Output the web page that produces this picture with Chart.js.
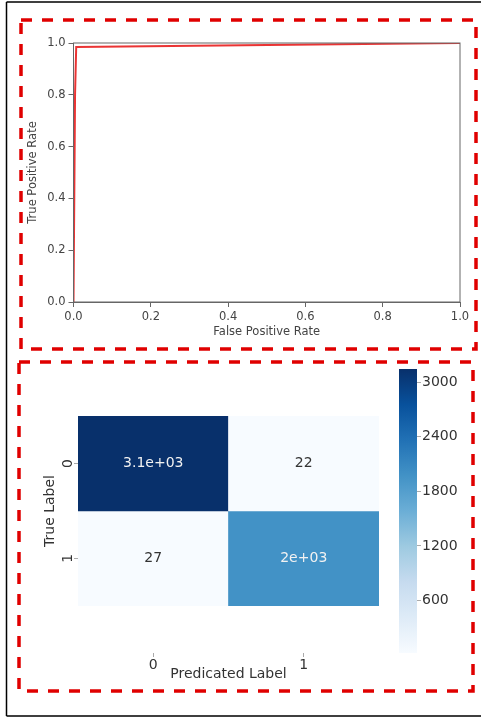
<!DOCTYPE html>
<html>
<head>
<meta charset="utf-8">
<script src="https://cdn.jsdelivr.net/npm/chart.js@4.4.1/dist/chart.umd.min.js"></script>
<style>
  html, body { margin: 0; padding: 0; background: #fff; }
  #page { position: relative; width: 481px; height: 717px; overflow: hidden; }
  canvas { position: absolute; }
  #roc { left: 0; top: 0; }
  #cm { left: 0; top: 355px; }
  #cbar { left: 385px; top: 355px; }
  svg { position: absolute; left: 0; top: 0; pointer-events: none; }
</style>
</head>
<body>
<div id="page">
  <canvas id="roc" width="481" height="360"></canvas>
  <canvas id="cm" width="400" height="335"></canvas>
  <canvas id="cbar" width="96" height="310"></canvas>
  <svg width="481" height="717">
    <path d="M6.5 2 H481 M6.5 2 V716 M6.5 716 H481" stroke="#000" stroke-width="1.5" fill="none"/>
    <rect x="21" y="20" width="455" height="329" fill="none" stroke="#e00000" stroke-width="3.5" stroke-dasharray="11 10"/>
    <rect x="19" y="362" width="454" height="329" fill="none" stroke="#e00000" stroke-width="3.5" stroke-dasharray="11 10"/>
  </svg>
</div>
<script>
// ROC curve points
const fpr = [0, 0.002, 0.004, 0.007, 1];
const tpr = [0, 0.4, 0.8, 0.985, 1];
const rocTicks = [0, 0.2, 0.4, 0.6, 0.8, 1.0];

// confusion matrix (rows = true label, cols = predicted label)
const cmRows = ["0", "1"];
const cmCols = ["0", "1"];
const cmValues = [
  [3146, 22],
  [27, 1980],
];
const cbarTicks = [600, 1200, 1800, 2400, 3000];

const BLUES = ["#f7fbff", "#deebf7", "#c6dbef", "#9ecae1", "#6baed6", "#4292c6", "#2171b5", "#08519c", "#08306b"];

Chart.defaults.font.family = "'DejaVu Sans', sans-serif";
Chart.defaults.animation = false;

function hexRgb(h) {
  return [1, 3, 5].map((i) => parseInt(h.slice(i, i + 2), 16));
}

function blues(t) {
  t = Math.max(0, Math.min(1, t));
  const s = t * (BLUES.length - 1);
  const i = Math.min(Math.floor(s), BLUES.length - 2);
  const f = s - i;
  const a = hexRgb(BLUES[i]), b = hexRgb(BLUES[i + 1]);
  const c = a.map((v, k) => Math.round(v + (b[k] - v) * f));
  return `rgb(${c[0]},${c[1]},${c[2]})`;
}

// python-style '%.2g'
function fmtG2(v) {
  const [m, e] = v.toExponential(1).split("e");
  const exp = parseInt(e, 10);
  if (exp < -4 || exp >= 2) {
    return String(parseFloat(m)) + "e" + (exp < 0 ? "-" : "+") + String(Math.abs(exp)).padStart(2, "0");
  }
  return String(parseFloat(v.toPrecision(2)));
}

const flat = cmValues.flat();
const vmin = Math.min(...flat);
const vmax = Math.max(...flat);
const norm = (v) => (v - vmin) / (vmax - vmin);

// ---------- ROC ----------
const frame = {
  id: "frame",
  afterDraw(chart) {
    const { ctx, chartArea: a } = chart;
    ctx.save();
    ctx.strokeStyle = "#666";
    ctx.lineWidth = 1;
    ctx.strokeRect(a.left, a.top, a.right - a.left, a.bottom - a.top);
    ctx.restore();
  },
};

const rocFont = { size: 11.5 };
new Chart(document.getElementById("roc"), {
  type: "line",
  data: {
    datasets: [{
      data: fpr.map((x, i) => ({ x, y: tpr[i] })),
      borderColor: "rgba(232,30,30,0.9)",
      borderWidth: 2,
      pointRadius: 0,
      tension: 0,
    }],
  },
  options: {
    responsive: false,
    devicePixelRatio: 1,
    layout: { padding: { left: 22, top: 43, right: 21, bottom: 17 } },
    plugins: { legend: { display: false }, tooltip: { enabled: false } },
    scales: {
      x: {
        type: "linear", min: 0, max: 1,
        afterBuildTicks: (s) => { s.ticks = rocTicks.map((value) => ({ value })); },
        afterFit: (s) => { s.height = 41; },
        ticks: { callback: (v) => v.toFixed(1), color: "#444", font: rocFont, padding: 3, maxRotation: 0 },
        grid: { drawOnChartArea: false, tickLength: 5, color: "#666" },
        border: { color: "#666" },
        title: { display: true, text: "False Positive Rate", color: "#444", font: rocFont, padding: { top: 2, bottom: 4 } },
      },
      y: {
        type: "linear", min: 0, max: 1,
        afterBuildTicks: (s) => { s.ticks = rocTicks.map((value) => ({ value })); },
        afterFit: (s) => { s.width = 51.5; },
        ticks: { callback: (v) => v.toFixed(1), color: "#444", font: rocFont, padding: 3 },
        grid: { drawOnChartArea: false, tickLength: 5, color: "#666" },
        border: { color: "#666" },
        title: { display: true, text: "True Positive Rate", color: "#444", font: rocFont, padding: { top: 4, bottom: 2 } },
      },
    },
  },
  plugins: [frame],
});

// ---------- confusion matrix ----------
const annotate = {
  id: "annotate",
  afterDatasetsDraw(chart) {
    const { ctx } = chart;
    ctx.save();
    ctx.font = "14px 'DejaVu Sans', sans-serif";
    ctx.textAlign = "center";
    ctx.textBaseline = "middle";
    chart.data.datasets.forEach((ds, r) => {
      chart.getDatasetMeta(r).data.forEach((el, c) => {
        const v = cmValues[r][c];
        ctx.fillStyle = norm(v) > 0.45 ? "#f2f2f2" : "#333";
        ctx.fillText(fmtG2(v), el.x, (el.y + el.base) / 2);
      });
    });
    ctx.restore();
  },
};

const cmFont = { size: 14 };
new Chart(document.getElementById("cm"), {
  type: "bar",
  data: {
    labels: cmCols,
    datasets: cmValues.map((row, r) => ({
      data: row.map(() => [r, r + 1]),
      backgroundColor: row.map((v) => blues(norm(v))),
      borderWidth: 0,
      grouped: false,
      barPercentage: 1,
      categoryPercentage: 1,
    })),
  },
  options: {
    responsive: false,
    devicePixelRatio: 1,
    layout: { padding: { left: 38, top: 14, right: 21, bottom: 3 } },
    plugins: { legend: { display: false }, tooltip: { enabled: false } },
    scales: {
      x: {
        type: "category",
        afterFit: (s) => { s.height = 34; },
        ticks: { color: "#333", font: cmFont, padding: 0, maxRotation: 0 },
        grid: { offset: false, drawOnChartArea: false, tickLength: 4, color: "#aaa" },
        border: { display: false },
        title: { display: true, text: "Predicated Label", color: "#333", font: cmFont, padding: { top: 0, bottom: 4 } },
      },
      y: {
        type: "linear", reverse: true, min: -0.5, max: 2.5,
        afterBuildTicks: (s) => { s.ticks = cmRows.map((_, i) => ({ value: i + 0.5 })); },
        afterFit: (s) => { s.width = 40; },
        ticks: {
          callback: (v, i) => cmRows[i], color: "#333", font: cmFont, padding: 1,
          minRotation: 90, maxRotation: 90, crossAlign: "center",
        },
        grid: { drawOnChartArea: false, tickLength: 4, color: "#aaa" },
        border: { display: false },
        title: { display: true, text: "True Label", color: "#333", font: cmFont, padding: { top: 4, bottom: 2 } },
      },
    },
  },
  plugins: [annotate],
});

// ---------- colour bar ----------
function cbarFill(ctx) {
  const { chart } = ctx;
  if (!chart.chartArea) return BLUES[4];
  const y = chart.scales.y;
  const g = chart.ctx.createLinearGradient(0, y.getPixelForValue(vmin), 0, y.getPixelForValue(vmax));
  BLUES.forEach((c, i) => g.addColorStop(i / (BLUES.length - 1), c));
  return g;
}

new Chart(document.getElementById("cbar"), {
  type: "bar",
  data: {
    labels: [""],
    datasets: [{
      data: [[vmin, vmax]],
      backgroundColor: cbarFill,
      borderWidth: 0,
      barPercentage: 1,
      categoryPercentage: 1,
    }],
  },
  options: {
    responsive: false,
    devicePixelRatio: 1,
    layout: { padding: { left: 14, top: 14, right: 0, bottom: 12 } },
    plugins: { legend: { display: false }, tooltip: { enabled: false } },
    scales: {
      x: { display: false },
      y: {
        type: "linear", position: "right", min: vmin, max: vmax,
        afterBuildTicks: (s) => { s.ticks = cbarTicks.map((value) => ({ value })); },
        afterFit: (s) => { s.width = 64; },
        ticks: { callback: (v) => String(v), color: "#333", font: cmFont, padding: 1 },
        grid: { drawOnChartArea: false, tickLength: 4, color: "#aaa" },
        border: { display: false },
      },
    },
  },
});
</script>
</body>
</html>
